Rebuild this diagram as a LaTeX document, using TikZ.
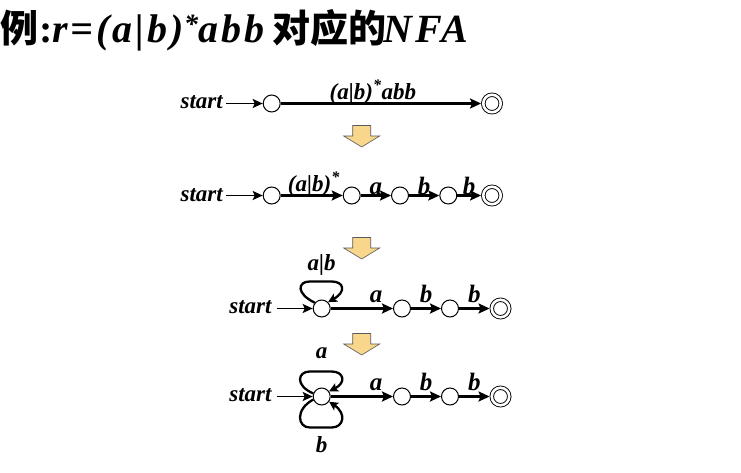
\documentclass[tikz,border=0pt]{standalone}
\usepackage{fontspec}
\setmainfont{Liberation Serif}
\newfontfamily\cjk{Noto Sans CJK SC}
\usetikzlibrary{arrows.meta}
\definecolor{arrowfill}{RGB}{248,214,140}
\begin{document}
\begin{tikzpicture}[x=1pt,y=-1pt,
  state/.style={circle,draw,line width=1pt,minimum size=17pt,inner sep=0pt,outer sep=0.5pt,fill=white},
  accept/.style={circle,draw,line width=0.9pt,double,double distance=2.6pt,minimum size=17.5pt,inner sep=0pt,outer sep=2.2pt},
  bi/.style={font=\fontsize{23}{25}\selectfont\bfseries\itshape},
  startlbl/.style={bi,inner sep=0pt,anchor=base east},
  trans/.style={line width=2.3pt,-{Stealth[length=11pt,width=10pt,inset=2pt]}},
  startedge/.style={line width=1.9pt,-{Stealth[length=10pt,width=9pt,inset=2pt]}},
  lab/.style={font=\fontsize{25}{27}\selectfont\bfseries\itshape,inner sep=0pt,anchor=base},
  slab/.style={bi,inner sep=0pt,anchor=base},
  loopedge/.style={line width=2.3pt,-{Stealth[length=9pt,width=9pt,inset=2pt]}},
  bigarrow/.style={fill=arrowfill,draw=black!65,line width=0.6pt},
  downarr/.pic={\path[bigarrow] (-9,0) -- (9,0) -- (9,10.5) -- (18,10.5) -- (0,21.5) -- (-18,10.5) -- (-9,10.5) -- cycle;},
  ttl/.style={anchor=base west,inner sep=0pt}
]
\useasboundingbox (0,0) rectangle (741,473);

% title
\node[ttl,font=\fontsize{38}{40}\selectfont\cjk\bfseries] (t1) at (0,43) {例};
\node[ttl,font=\fontsize{40}{42}\selectfont\bfseries] (t2) at (39,43) {:};
\node[ttl,font=\fontsize{40}{42}\selectfont\bfseries\itshape\addfontfeature{LetterSpace=7.5}] (t3) at (52,43) {r=(a|b)\textsuperscript{*}abb};
\node[ttl,font=\fontsize{38}{40}\selectfont\cjk\bfseries] (t4) at (272,43) {对应的};
\node[ttl,font=\fontsize{40}{42}\selectfont\bfseries\itshape\addfontfeature{LetterSpace=8}] (t5) at (383,43) {NFA};

% row 1
\node[state] (c11) at (271.7,103.5) {};
\node[accept] (f1) at (492,103.5) {};
\node[startlbl] (s1) at (223,109) {start};
\draw[startedge] ([xshift=3pt]s1.east |- c11) -- (c11);
\draw[trans] (c11) -- node[slab,pos=0.46,yshift=3.5pt] (l1) {(a|b)\textsuperscript{*}abb} (f1);

\pic at (361.7,125.5) {downarr};

% row 2
\node[state] (c21) at (271.7,195.5) {};
\node[state] (c22) at (351.7,195.5) {};
\node[state] (c23) at (400,195.5) {};
\node[state] (c24) at (448.3,195.5) {};
\node[accept] (f2) at (492,195.5) {};
\node[startlbl] (s2) at (223,201) {start};
\draw[startedge] ([xshift=3pt]s2.east |- c21) -- (c21);
\draw[trans] (c21) -- node[slab,pos=0.535,yshift=3.5pt] (l21) {(a|b)\textsuperscript{*}} (c22);
\draw[trans] (c22) -- node[lab,pos=0.5,yshift=1.5pt] (l22) {a} (c23);
\draw[trans] (c23) -- node[lab,pos=0.5,yshift=1.5pt] (l23) {b} (c24);
\draw[trans] (c24) -- node[lab,pos=0.5,yshift=1.5pt] (l24) {b} (f2);

\pic at (361.7,237.5) {downarr};

% row 3
\node[state] (c31) at (321.7,308.5) {};
\node[state] (c32) at (402,308.5) {};
\node[state] (c33) at (450,308.5) {};
\node[accept] (f3) at (500.5,308.5) {};
\node[startlbl] (s3) at (271.7,313.5) {start};
\draw[startedge] ([xshift=5pt]s3.east |- c31) -- (c31);
\draw[trans] (c31) -- node[lab,pos=0.73,yshift=6.5pt] (l31) {a} (c32);
\draw[trans] (c32) -- node[lab,pos=0.5,yshift=6.5pt] (l32) {b} (c33);
\draw[trans] (c33) -- node[lab,pos=0.5,yshift=6.5pt] (l33) {b} (f3);
\begin{scope}[shift={(c31)}]
\draw[loopedge] (c31.140) .. controls (-26,-15) and (-24,-27) .. (-12,-27) -- (10,-27) .. controls (22,-27) and (25,-17) .. (c31.45);
\end{scope}
\node[slab] (l3loop) at (321.7,270) {a|b};

\pic at (361.7,333.5) {downarr};

% row 4
\node[state] (c41) at (321.7,396.5) {};
\node[state] (c42) at (402,396.5) {};
\node[state] (c43) at (450,396.5) {};
\node[accept] (f4) at (500.5,396.5) {};
\node[startlbl] (s4) at (271.7,401.5) {start};
\draw[startedge] ([xshift=5pt]s4.east |- c41) -- (c41);
\draw[trans] (c41) -- node[lab,pos=0.73,yshift=6.5pt] (l41) {a} (c42);
\draw[trans] (c42) -- node[lab,pos=0.5,yshift=6.5pt] (l42) {b} (c43);
\draw[trans] (c43) -- node[lab,pos=0.5,yshift=6.5pt] (l43) {b} (f4);
\begin{scope}[shift={(c41)}]
\draw[loopedge] (c41.160) .. controls (-27,-11) and (-24,-25) .. (-12,-25) -- (10,-25) .. controls (22,-25) and (25,-14) .. (c41.35);
\draw[loopedge] (c41.200) .. controls (-27,13) and (-24,31) .. (-12,31) -- (10,31) .. controls (22,31) and (25,17) .. (c41.-35);
\end{scope}
\node[slab] (l4a) at (321.7,358) {a};
\node[slab] (l4b) at (321.7,452) {b};
\end{tikzpicture}
\end{document}
